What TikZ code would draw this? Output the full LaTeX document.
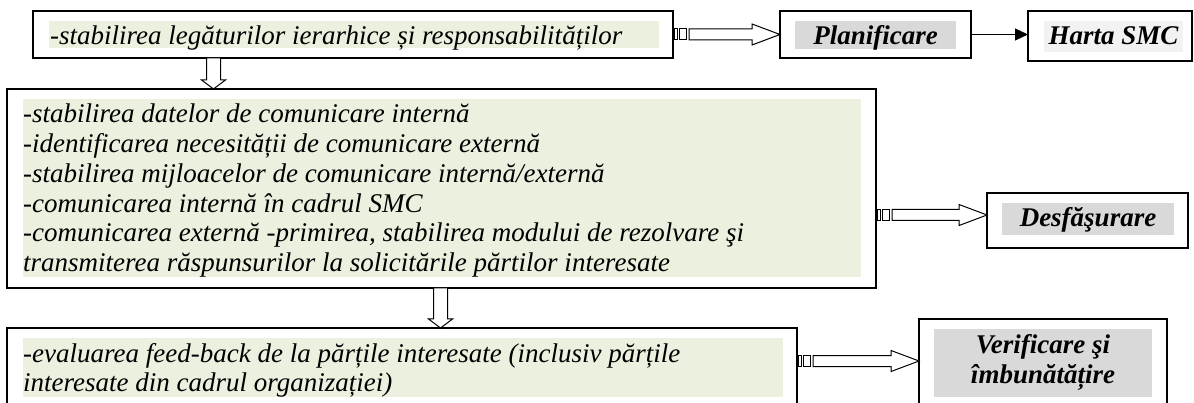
\documentclass[tikz,border=0pt]{standalone}
\usepackage{fontspec}
\setmainfont{Liberation Serif}
\usetikzlibrary{calc,arrows.meta}
\definecolor{gfill}{HTML}{EBF1DE}
\definecolor{lgray}{HTML}{D9D9D9}
\definecolor{llgray}{HTML}{F2F2F2}
\tikzset{
  boxnode/.style={draw=black, line width=1.6pt, anchor=north west, inner sep=0pt, outer sep=0pt},
  greenbg/.style={fill=gfill, anchor=north west, inner sep=0pt, outer sep=0pt},
  graybg/.style={fill=lgray, anchor=north west, inner sep=0pt, outer sep=0pt},
  txt/.style={anchor=base west, inner sep=0pt, font=\fontsize{27}{30}\selectfont\itshape},
  lbl/.style={anchor=base, inner sep=0pt, font=\fontsize{27}{30}\selectfont\bfseries\itshape},
  arrline/.style={draw=black, line width=1pt, fill=white},
}
\newcommand\stripedarrow[2]{%
  \draw[arrline] ($(#1)+(1,-5.5)$) rectangle ($(#1)+(4,5.5)$);
  \draw[arrline] ($(#1)+(6,-5.5)$) rectangle ($(#1)+(13,5.5)$);
  \draw[arrline] ($(#1)+(16,-5.5)$) -- ($(#2)+(-28,-5.5)$) -- ($(#2)+(-28,-10.5)$) -- (#2)
     -- ($(#2)+(-28,10.5)$) -- ($(#2)+(-28,5.5)$) -- ($(#1)+(16,5.5)$) -- cycle;
}
\newcommand\hollowdown[2]{%
  \draw[arrline] ($(#1)+(-7,0)$) -- ($(#2)+(-7,-9)$) -- ($(#2)+(-12,-9)$) -- (#2)
     -- ($(#2)+(12,-9)$) -- ($(#2)+(7,-9)$) -- ($(#1)+(7,0)$) -- cycle;
}
\begin{document}
\begin{tikzpicture}[x=1pt,y=-1pt]
\useasboundingbox (0,0) rectangle (1194,403);
\clip (0,0) rectangle (1194,403);
\fill[white] (0,0) rectangle (1194,403);

% top box
\node[greenbg, minimum width=610pt, minimum height=27pt] (f1) at (49,21) {};
\node[txt] (t1) at (50,45) {-stabilirea legăturilor ierarhice și responsabilităților};
\node[boxnode, minimum width=640pt, minimum height=47pt] (b1) at (33,11) {};

% Planificare
\node[boxnode, minimum width=191pt, minimum height=47pt] (pl) at (780,11) {};
\node[graybg, minimum width=161pt, minimum height=28pt] (fp) at (795,21) {};
\node[lbl] (tp) at (875.5,45) {Planificare};

% Harta SMC
\node[boxnode, minimum width=164pt, minimum height=50pt] (hs) at (1028,11) {};
\node[fill=llgray, anchor=north west, inner sep=0pt, minimum width=139pt, minimum height=31pt] (fh) at (1044,21) {};
\node[lbl] (th) at (1113.5,45) {Harta SMC};

% middle box
\node[greenbg, minimum width=838pt, minimum height=178pt] (f2) at (23,99) {};
\begin{scope}
\clip (f2.north west) rectangle (f2.south east);
\node[txt] (t2a) at (23,123) {-stabilirea datelor de comunicare internă};
\node[txt] (t2b) at (23,152.7) {-identificarea necesității de comunicare externă};
\node[txt] (t2c) at (23,182.4) {-stabilirea mijloacelor de comunicare internă/externă};
\node[txt] (t2d) at (23,212.1) {-comunicarea internă în cadrul SMC};
\node[txt] (t2e) at (23,241.8) {-comunicarea externă -primirea, stabilirea modului de rezolvare şi};
\node[txt] (t2f) at (23,271.5) {transmiterea răspunsurilor la solicitările părtilor interesate};
\end{scope}
\node[boxnode, minimum width=869pt, minimum height=199pt] (b2) at (7,89) {};

% Desfasurare
\node[boxnode, minimum width=201pt, minimum height=55pt] (ds) at (987,193) {};
\node[graybg, minimum width=172pt, minimum height=32pt] (fd) at (1002,203) {};
\node[lbl] (td) at (1088,227) {Desfăşurare};

% bottom box
\node[greenbg, minimum width=760pt, minimum height=59pt] (f3) at (23,338) {};
\node[txt] (t3a) at (23,362) {-evaluarea feed-back de la părțile interesate (inclusiv părțile};
\node[txt] (t3b) at (23,391.7) {interesate din cadrul organizației)};
\node[boxnode, minimum width=790pt, minimum height=100pt] (b3) at (7,328) {};

% Verificare
\node[boxnode, minimum width=248pt, minimum height=100pt] (vf) at (919,319) {};
\node[graybg, minimum width=218pt, minimum height=68pt] (fv) at (934,329) {};
\node[lbl] (tv1) at (1043,353) {Verificare şi};
\node[lbl] (tv2) at (1043,383) {îmbunătățire};

% connectors
\stripedarrow{b1.east}{pl.west}
\draw[line width=1pt, -{Triangle[length=13pt,width=12pt]}] (pl.east) -- (pl.east -| hs.west);

\coordinate (y2) at (0,215);
\coordinate (a2s) at (b2.east |- y2);
\coordinate (a2e) at (ds.west |- y2);
\stripedarrow{a2s}{a2e}

\coordinate (y3) at (0,361);
\coordinate (a3s) at (b3.east |- y3);
\coordinate (a3e) at (vf.west |- y3);
\stripedarrow{a3s}{a3e}

\coordinate (x1) at (213.5,0);
\coordinate (d1s) at (b1.south -| x1);
\coordinate (d1e) at (b2.north -| x1);
\hollowdown{d1s}{d1e}

\coordinate (x2) at (440.5,0);
\coordinate (d2s) at (b2.south -| x2);
\coordinate (d2e) at (b3.north -| x2);
\hollowdown{d2s}{d2e}
\end{tikzpicture}
\end{document}
